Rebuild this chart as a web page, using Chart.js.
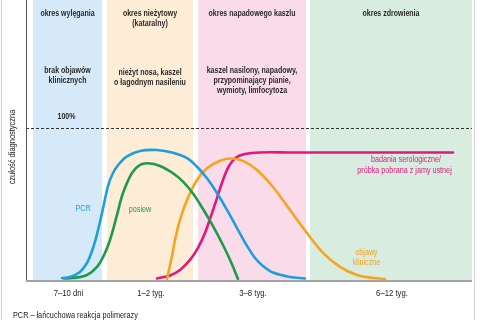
<!DOCTYPE html>
<html>
<head>
<meta charset="utf-8">
<script src="https://cdn.jsdelivr.net/npm/chart.js@4.4.1/dist/chart.umd.min.js"></script>
<style>
  html, body { margin:0; padding:0; background:#fff; }
  canvas { display:block; }
</style>
</head>
<body>
<canvas id="chart" width="480" height="320"></canvas>
<script>
// x positions are arbitrary "time" units along the axis (not linear in days)
const pcrX = [36,44,54,61,66,70,74,78,82,87,93,101,114,131,147,161,171,181,191,201,211,221,229,237,247,264,279];
const pcrY = [1.3,2.0,5.3,11.2,19.1,27.6,38.2,50.0,61.8,70.4,76.3,81.3,84.9,85.5,83.7,80.1,74.5,66.9,57.2,46.1,34.2,22.4,14.5,9.2,4.9,2.0,1.0];

const posiewX = [38,47,61,71,78,84,91,97,106,114,122,134,147,157,167,177,187,197,205,212];
const posiewY = [1.0,1.3,3.3,8.6,16.4,26.3,42.8,57.2,70.4,75.7,76.8,75.0,70.2,64.7,56.9,46.7,35.5,23.0,11.8,0.7];

const objawyX = [141,146,149,154,161,171,181,194,206,218,231,247,264,281,297,314,331,347,359];
const objawyY = [0.7,15.8,26.3,39.5,52.6,65.8,73.5,78.5,79.9,78.0,72.4,61.2,46.1,30.9,17.8,8.6,3.3,1.3,0.7];

const seroX = [131,144,154,164,172,179,185,191,197,203,210,219,234,264,427];
const seroY = [1.0,3.0,6.6,13.2,21.1,30.9,42.1,53.9,65.8,75.0,80.6,82.9,83.9,83.9,83.9];

// periods: start, end on the x axis
const periodStart = [7,81,172,284];
const periodEnd   = [76,167,280,446];
const periodColors = ['#d5e9f9','#fdecd6','#f9dbea','#d9ece0'];
const periodNames = [['okres wylęgania'],['okres nieżytowy','(kataralny)'],['okres napadowego kaszlu'],['okres zdrowienia']];
const periodSymptoms = [['brak objawów','klinicznych'],['nieżyt nosa, kaszel','o łagodnym nasileniu'],['kaszel nasilony, napadowy,','przypominający pianie,','wymioty, limfocytoza'],[]];
const periodTicks = ['7–10 dni','1–2 tyg.','3–8 tyg.','6–12 tyg.'];

const FONT = '"Liberation Sans", Arial, sans-serif';
const SX = 0.8; // condensed look of the original typeface

function pts(xs, ys){ return xs.map((x,i)=>({x:x, y:ys[i]})); }

function txt(ctx, s, x, y, sx){
  ctx.save();
  ctx.translate(x, y);
  ctx.scale(sx || SX, 1);
  ctx.fillText(s, 0, 0);
  ctx.restore();
}

const decor = {
  id:'decor',
  beforeDatasetsDraw(chart){
    const {ctx, chartArea:a, scales:{x, y}} = chart;
    ctx.save();
    // frame
    ctx.strokeStyle = '#cfcfcf'; ctx.lineWidth = 1;
    ctx.beginPath(); ctx.moveTo(1.5,0); ctx.lineTo(1.5,320); ctx.moveTo(474.5,0); ctx.lineTo(474.5,320); ctx.stroke();
    // bands
    periodStart.forEach((s,i)=>{
      const l = x.getPixelForValue(s), r = x.getPixelForValue(periodEnd[i]);
      ctx.fillStyle = periodColors[i];
      ctx.fillRect(l, a.top, r-l, a.bottom-a.top);
    });
    // 100% dashed line
    const y100 = Math.round(y.getPixelForValue(100)) + 0.5;
    ctx.strokeStyle = '#333'; ctx.lineWidth = 1; ctx.setLineDash([3,2]);
    ctx.beginPath(); ctx.moveTo(a.left, y100); ctx.lineTo(a.right, y100); ctx.stroke();
    ctx.setLineDash([]);
    // axes
    ctx.strokeStyle = '#555'; ctx.lineWidth = 1;
    ctx.beginPath(); ctx.moveTo(a.left+0.5, a.top); ctx.lineTo(a.left+0.5, a.bottom); ctx.stroke();
    ctx.strokeStyle = '#a3a3a3'; ctx.lineWidth = 2;
    ctx.beginPath(); ctx.moveTo(a.left, a.bottom+1); ctx.lineTo(a.right, a.bottom+1); ctx.stroke();
    ctx.restore();
  },
  afterDatasetsDraw(chart){
    const {ctx, scales:{x, y}} = chart;
    ctx.save();
    ctx.textAlign = 'center'; ctx.textBaseline = 'middle';
    ctx.fillStyle = '#2a2a2a';
    ctx.font = 'bold 9px ' + FONT;
    periodStart.forEach((s,i)=>{
      const cx = (x.getPixelForValue(s) + x.getPixelForValue(periodEnd[i]))/2;
      periodNames[i].forEach((t,j)=> txt(ctx, t, cx, 13.5 + j*10, 0.78));
      const top = i === 1 ? 72.5 : 70.5;
      periodSymptoms[i].forEach((t,j)=> txt(ctx, t, cx, top + j*10, 0.78));
    });
    txt(ctx, '100%', (x.getPixelForValue(periodStart[0]) + x.getPixelForValue(periodEnd[0]))/2 - 1, 117, 0.78);
    // tick labels
    ctx.font = '9px ' + FONT;
    ctx.fillStyle = '#222';
    periodStart.forEach((s,i)=>{
      const cx = (x.getPixelForValue(s) + x.getPixelForValue(periodEnd[i]))/2;
      txt(ctx, periodTicks[i], cx + 1, 293.5, 0.86);
    });
    // footnote
    ctx.textAlign = 'left';
    txt(ctx, 'PCR – łańcuchowa reakcja polimerazy', 13, 316, 0.81);
    // y title
    ctx.save();
    ctx.translate(13, 147); ctx.rotate(-Math.PI/2);
    ctx.textAlign = 'center';
    txt(ctx, 'czułość diagnostyczna', 0, 0, 0.83);
    ctx.restore();
    // series labels
    ctx.textAlign = 'center';
    ctx.font = '500 9px ' + FONT;
    ctx.fillStyle = '#1e9fdb'; txt(ctx, 'PCR', x.getPixelForValue(57), 209);
    ctx.fillStyle = '#1f9a4b'; txt(ctx, 'posiew', x.getPixelForValue(114), 210);
    ctx.fillStyle = '#e0197d';
    txt(ctx, 'badania serologiczne/', x.getPixelForValue(380), 160);
    txt(ctx, 'próbka pobrana z jamy ustnej', x.getPixelForValue(378.5), 170.5);
    ctx.fillStyle = '#f2a31d';
    txt(ctx, 'objawy', x.getPixelForValue(340.5), 253);
    txt(ctx, 'kliniczne', x.getPixelForValue(340.5), 263);
    ctx.restore();
  }
};

const lineDs = (label, data, color) => ({
  label, data, borderColor: color, borderWidth: 2.6, pointRadius: 0,
  fill: false, tension: 0.35, borderCapStyle: 'round', borderJoinStyle: 'round'
});

new Chart(document.getElementById('chart'), {
  type: 'line',
  data: {
    datasets: [
      lineDs('PCR', pts(pcrX, pcrY), '#1e9fdb'),
      lineDs('posiew', pts(posiewX, posiewY), '#1f9a4b'),
      lineDs('objawy kliniczne', pts(objawyX, objawyY), '#f5a51c'),
      lineDs('badania serologiczne', pts(seroX, seroY), '#e0197d')
    ]
  },
  options: {
    responsive: false,
    animation: false,
    layout: { padding: { left: 26, right: 8, top: 0, bottom: 40 } },
    plugins: { legend: { display: false }, tooltip: { enabled: false } },
    scales: {
      x: { type: 'linear', min: 0, max: 446, display: false },
      y: { min: 0, max: 184.2, display: false }
    }
  },
  plugins: [decor]
});
</script>
</body>
</html>
